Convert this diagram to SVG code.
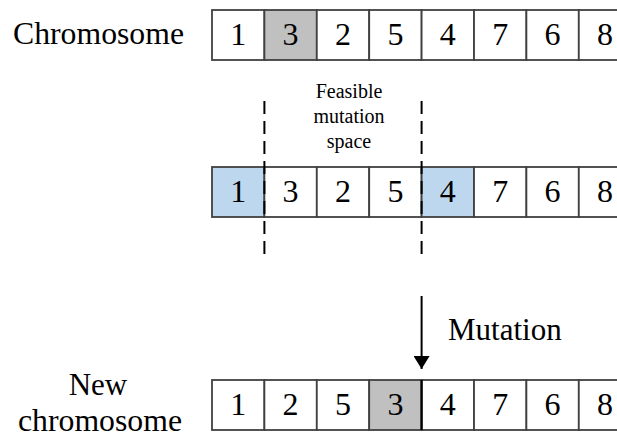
<svg xmlns="http://www.w3.org/2000/svg" width="617" height="432" viewBox="0 0 617 432" font-family="Liberation Serif, Times New Roman, Tinos, DejaVu Serif, serif">
<defs>
<style>
.cell{fill:#ffffff;stroke:#404040;stroke-width:1.8}
.grey{fill:#c0c0c0}
.blue{fill:#bdd7ee}
.d{font-size:32px;fill:#000;text-anchor:middle}
.lbl{font-size:31px;fill:#000}
.small{font-size:20px;fill:#000;text-anchor:middle}
.dash{stroke:#000;stroke-width:2;stroke-dasharray:13 7;fill:none}
</style>
<marker id="ah" markerWidth="16" markerHeight="14" refX="8" refY="13" orient="0" markerUnits="userSpaceOnUse">
<path d="M0,0 L16,0 L8,13 Z" fill="#000"/>
</marker>
</defs>
<rect width="617" height="432" fill="#ffffff"/>

<g id="row1">
<text class="lbl" x="13" y="44" textLength="171" lengthAdjust="spacingAndGlyphs">Chromosome</text>
<rect class="cell" x="212" y="10" width="52.4" height="50"/>
<rect class="cell grey" x="264.4" y="10" width="52.4" height="50"/>
<rect class="cell" x="316.8" y="10" width="52.4" height="50"/>
<rect class="cell" x="369.2" y="10" width="52.4" height="50"/>
<rect class="cell" x="421.6" y="10" width="52.4" height="50"/>
<rect class="cell" x="474" y="10" width="52.4" height="50"/>
<rect class="cell" x="526.4" y="10" width="52.4" height="50"/>
<rect class="cell" x="578.8" y="10" width="52.4" height="50"/>
<text class="d" x="238.2" y="45">1</text>
<text class="d" x="290.6" y="45">3</text>
<text class="d" x="343" y="45">2</text>
<text class="d" x="395.4" y="45">5</text>
<text class="d" x="447.8" y="45">4</text>
<text class="d" x="500.2" y="45">7</text>
<text class="d" x="552.6" y="45">6</text>
<text class="d" x="605" y="45">8</text>
</g>

<g id="row2">
<text class="small" x="349" y="98">Feasible</text>
<text class="small" x="349" y="123">mutation</text>
<text class="small" x="349" y="148">space</text>
<rect class="cell blue" x="212" y="167" width="52.4" height="50"/>
<rect class="cell" x="264.4" y="167" width="52.4" height="50"/>
<rect class="cell" x="316.8" y="167" width="52.4" height="50"/>
<rect class="cell" x="369.2" y="167" width="52.4" height="50"/>
<rect class="cell blue" x="421.6" y="167" width="52.4" height="50"/>
<rect class="cell" x="474" y="167" width="52.4" height="50"/>
<rect class="cell" x="526.4" y="167" width="52.4" height="50"/>
<rect class="cell" x="578.8" y="167" width="52.4" height="50"/>
<text class="d" x="238.2" y="202">1</text>
<text class="d" x="290.6" y="202">3</text>
<text class="d" x="343" y="202">2</text>
<text class="d" x="395.4" y="202">5</text>
<text class="d" x="447.8" y="202">4</text>
<text class="d" x="500.2" y="202">7</text>
<text class="d" x="552.6" y="202">6</text>
<text class="d" x="605" y="202">8</text>
</g>

<g id="row3">
<text class="lbl" x="98" y="395" text-anchor="middle">New</text>
<text class="lbl" x="100" y="431" text-anchor="middle" textLength="164" lengthAdjust="spacingAndGlyphs">chromosome</text>
<rect class="cell" x="212" y="380" width="52.4" height="50"/>
<rect class="cell" x="264.4" y="380" width="52.4" height="50"/>
<rect class="cell" x="316.8" y="380" width="52.4" height="50"/>
<rect class="cell grey" x="369.2" y="380" width="52.4" height="50"/>
<rect class="cell" x="421.6" y="380" width="52.4" height="50"/>
<rect class="cell" x="474" y="380" width="52.4" height="50"/>
<rect class="cell" x="526.4" y="380" width="52.4" height="50"/>
<rect class="cell" x="578.8" y="380" width="52.4" height="50"/>
<text class="d" x="238.2" y="415">1</text>
<text class="d" x="290.6" y="415">2</text>
<text class="d" x="343" y="415">5</text>
<text class="d" x="395.4" y="415">3</text>
<text class="d" x="447.8" y="415">4</text>
<text class="d" x="500.2" y="415">7</text>
<text class="d" x="552.6" y="415">6</text>
<text class="d" x="605" y="415">8</text>
</g>

<g id="connectors">
<line class="dash" x1="264.4" y1="101" x2="264.4" y2="258"/>
<line class="dash" x1="421.6" y1="101" x2="421.6" y2="258"/>
<line x1="421.6" y1="296" x2="421.6" y2="369" stroke="#000" stroke-width="2" marker-end="url(#ah)"/>
<line x1="421.6" y1="380" x2="421.6" y2="430" stroke="#000" stroke-width="2.2"/>
<text class="lbl" x="448" y="340">Mutation</text>
</g>
</svg>
